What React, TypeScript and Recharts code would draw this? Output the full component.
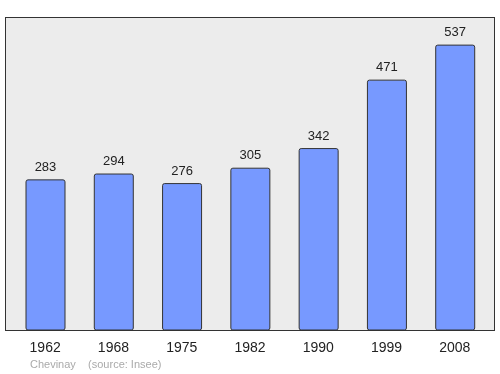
import React from 'react';
import { BarChart, Bar, XAxis, YAxis, LabelList } from 'recharts';

const years = ['1962', '1968', '1975', '1982', '1990', '1999', '2008'];
const population = [283, 294, 276, 305, 342, 471, 537];

const chartData = years.map((year, i) => ({ year, population: population[i] }));

const font = '"Liberation Sans", Arial, sans-serif';

const App: React.FC = () => {
  return (
    <div style={{ position: 'fixed', left: 0, top: 0, width: 500, height: 374, fontFamily: font }}>
      {/* plot frame behind the svg */}
      <div
        style={{
          position: 'absolute',
          left: 5,
          top: 17,
          width: 490,
          height: 314,
          boxSizing: 'border-box',
          border: '1.5px solid #333',
          background: '#ececec',
        }}
      />
      <div style={{ position: 'absolute', left: 0, top: 0 }}>
        <BarChart
          width={500}
          height={374}
          data={chartData}
          margin={{ top: 17, right: 5, left: 5, bottom: 14 }}
          barSize={39}
        >
          <XAxis
            dataKey="year"
            height={30}
            axisLine={false}
            tickLine={false}
            tickMargin={6}
            padding={{ left: 6, right: 6 }}
            tick={{ fontSize: 14, fill: '#222', fontFamily: font }}
          />
          <YAxis hide domain={[0, 590]} />
          <Bar
            dataKey="population"
            fill="#7799ff"
            stroke="#333"
            strokeWidth={1}
            radius={2}
            isAnimationActive={false}
          >
            <LabelList
              dataKey="population"
              position="top"
              offset={9}
              style={{ fontSize: 13, fill: '#222', fontFamily: font }}
            />
          </Bar>
        </BarChart>
      </div>
      <div
        style={{
          position: 'absolute',
          left: 30,
          top: 358,
          fontSize: 11,
          lineHeight: '13px',
          color: '#aaa',
          whiteSpace: 'pre',
        }}
      >
        {'Chevinay    (source: Insee)'}
      </div>
    </div>
  );
};

export default App;
